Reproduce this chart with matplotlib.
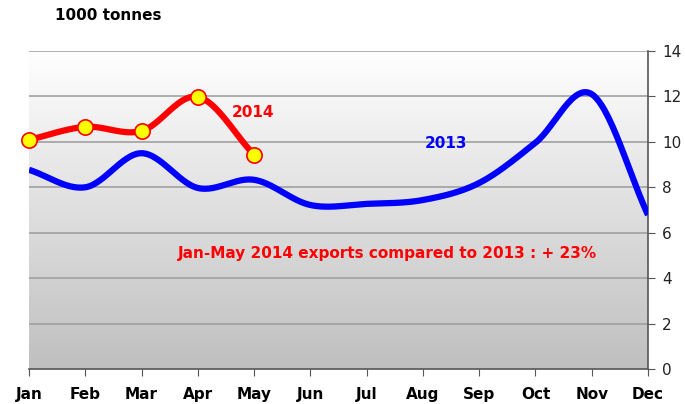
import numpy as np
import matplotlib
matplotlib.use("Agg")
import matplotlib.pyplot as plt
from matplotlib.colors import LinearSegmentedColormap

months = ["Jan", "Feb", "Mar", "Apr", "May", "Jun", "Jul", "Aug", "Sep", "Oct", "Nov", "Dec"]
exports_2013 = [8.77, 8.0, 9.5, 7.97, 8.33, 7.22, 7.27, 7.44, 8.19, 9.96, 12.1, 6.78]
exports_2014 = [10.09, 10.66, 10.48, 11.98, 9.43]
y_ticks = [0, 2, 4, 6, 8, 10, 12, 14]

plt.rcParams["font.family"] = ["DejaVu Sans"]


def catmull(y, n=30):
    y = np.asarray(y, float)
    x = np.arange(len(y), dtype=float)
    xs, ys = [], []
    for i in range(len(y) - 1):
        p0 = y[i - 1] if i > 0 else y[i]
        p1, p2 = y[i], y[i + 1]
        p3 = y[i + 2] if i + 2 < len(y) else y[i + 1]
        m1 = (p2 - p0) / (2 if i > 0 else 1)
        m2 = (p3 - p1) / (2 if i + 2 < len(y) else 1)
        t = np.linspace(0, 1, n, endpoint=False)
        h00 = 2 * t**3 - 3 * t**2 + 1
        h10 = t**3 - 2 * t**2 + t
        h01 = -2 * t**3 + 3 * t**2
        h11 = t**3 - t**2
        xs.append(x[i] + t)
        ys.append(h00 * p1 + h10 * m1 + h01 * p2 + h11 * m2)
    xs.append([x[-1]])
    ys.append([y[-1]])
    return np.concatenate(xs), np.concatenate(ys)


fig = plt.figure(figsize=(6.85, 4.04), dpi=100)
ax = fig.add_axes([29 / 685, 1 - 369 / 404, (648 - 29) / 685, (369 - 51) / 404])

# gradient background: white at top, grey at bottom
grad = np.linspace(0, 1, 256).reshape(-1, 1)
cmap = LinearSegmentedColormap.from_list("bg", ["#ffffff", "#bfbfbf"])
ax.imshow(grad, extent=[0, 11, 0, 14], origin="upper", aspect="auto", cmap=cmap, zorder=0)

ax.set_xlim(0, 11)
ax.set_ylim(0, 14)
for v in y_ticks[1:]:
    ax.axhline(v, color="#a0a0a0", lw=1.2, zorder=1)

x13, y13 = catmull(exports_2013)
ax.plot(x13, y13, color="#0000ff", lw=4.5, zorder=3, solid_capstyle="butt")
x14, y14 = catmull(exports_2014)
ax.plot(x14, y14, color="#ff0000", lw=4.5, zorder=4)
ax.plot(range(len(exports_2014)), exports_2014, "o", ms=11, mfc="#ffff00",
        mec="#ff0000", mew=1.2, zorder=5, clip_on=False)

ax.yaxis.tick_right()
ax.set_yticks(y_ticks)
ax.set_yticklabels([str(v) for v in y_ticks], fontsize=11, color="#222222")
ax.set_xticks(range(12))
ax.set_xticklabels(months, fontsize=11, fontweight="bold")
ax.tick_params(axis="y", direction="out", length=5, color="#555555", pad=5)
ax.tick_params(axis="x", direction="out", length=5, color="#555555", pad=8)
for s in ["left", "top"]:
    ax.spines[s].set_visible(False)
ax.spines["right"].set_color("#555555")
ax.spines["bottom"].set_color("#555555")
ax.spines["right"].set_linewidth(1.2)
ax.spines["bottom"].set_linewidth(1.2)

ax.text(3.6, 11.3, "2014", color="#ff0000", fontsize=11, fontweight="bold",
        va="center", zorder=6)
ax.text(7.04, 9.91, "2013", color="#0000ff", fontsize=11, fontweight="bold",
        va="center", zorder=6)
ax.text(6.37, 5.1, "Jan-May 2014 exports compared to 2013 : + 23%", color="#ff0000",
        fontsize=11, fontweight="bold", ha="center", va="center", zorder=6)

fig.text(55 / 685, 1 - 16 / 404, "1000 tonnes", fontsize=11, fontweight="bold",
         va="center", ha="left")
fig.text(428 / 685, 1.012, "Monthly exports", fontsize=17, fontweight="bold",
         ha="right", va="baseline")

fig.savefig("out.png", dpi=100)
